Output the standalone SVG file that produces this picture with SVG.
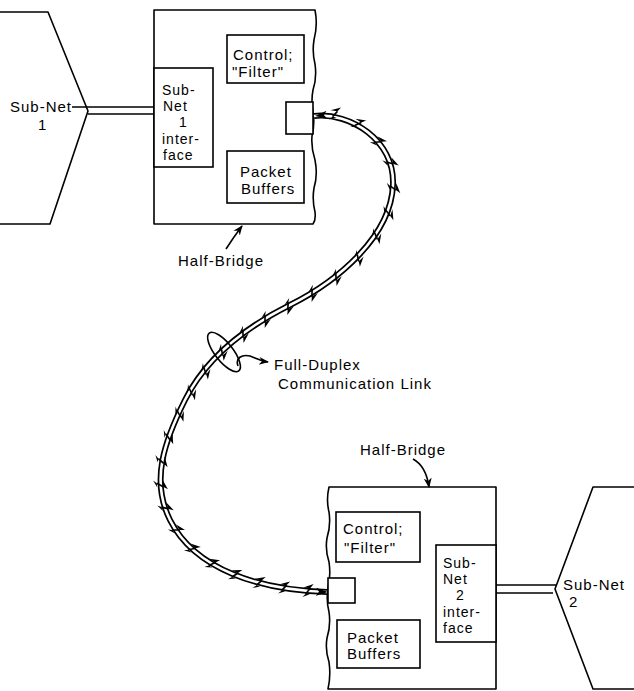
<svg xmlns="http://www.w3.org/2000/svg" width="634" height="691" viewBox="0 0 634 691">
<style>
.t{font-family:"Liberation Sans",Arial,sans-serif;font-size:15px;letter-spacing:1px;fill:#000}
.s{font-size:14px}
.ln{fill:none;stroke:#000;stroke-width:1.6;stroke-linejoin:round}
.bx{fill:#fff;stroke:#000;stroke-width:1.6}
</style>
<defs>
<marker id="arr" viewBox="0 0 10 10" refX="9" refY="5" markerWidth="10" markerHeight="10" markerUnits="userSpaceOnUse" orient="auto">
<path d="M0,1 L10,5 L0,9 L3,5 Z" fill="#000"/>
</marker>
<marker id="larr" viewBox="0 0 12 12" refX="11" refY="6" markerWidth="12" markerHeight="12" markerUnits="userSpaceOnUse" orient="auto-start-reverse">
<path d="M0,2 L12,6 L0,10 L3,6 Z" fill="#000"/>
</marker>
<marker id="bolt" viewBox="-9 -9 18 18" refX="0" refY="0" markerWidth="18" markerHeight="18" markerUnits="userSpaceOnUse" orient="auto" overflow="visible">
<path d="M-5,-3 L5,-7.5 L2,-3 Z" fill="#000"/>
<path d="M2,3 L-5,6.5 L-2,3 Z" fill="#000"/>
<path d="M2,-3 L-2,3" stroke="#000" stroke-width="1.6" fill="none"/>
</marker>
</defs>

<g id="subnet1">
<path class="ln" d="M0,12 L48,12 L88,111 L50,224 L0,224"/>
<text class="t" x="10" y="112">Sub-Net</text>
<text class="t" x="38" y="130">1</text>
</g>

<g id="halfbridge1">
<path class="ln" d="M154,10 L315,10 Q318,25 314,40 Q312,52 315,64 Q317,78 313,90 Q311,100 313,112 Q315,124 312,136 Q311,148 315,160 Q318,175 314,188 Q312,200 315,212 Q316,220 313,224 L154,224 Z"/>
<rect id="port1" class="bx" x="286" y="102" width="27" height="32"/>
</g>

<g id="interface1">
<rect class="bx" x="154" y="68" width="59" height="99"/>
<text class="t s" x="162" y="95">Sub-</text>
<text class="t s" x="163" y="111">Net</text>
<text class="t s" x="179" y="127">1</text>
<text class="t s" x="162" y="144">inter-</text>
<text class="t s" x="163" y="160">face</text>
</g>

<g id="control1">
<rect class="bx" x="227" y="35" width="77" height="48"/>
<text class="t" x="233" y="60">Control;</text>
<text class="t" x="232" y="77">"Filter"</text>
</g>

<g id="buffers1">
<rect class="bx" x="227" y="151" width="77" height="52"/>
<text class="t" x="240" y="177">Packet</text>
<text class="t" x="241" y="194">Buffers</text>
</g>

<g id="label1">
<text class="t" x="178" y="266">Half-Bridge</text>
</g>

<g id="halfbridge2">
<path class="ln" d="M496,487 L329,487 Q326,500 329,512 Q331,525 327,538 Q325,550 329,562 Q331,575 328,588 Q326,600 329,612 Q331,625 327,638 Q325,650 329,662 Q331,676 328,689 L496,689 Z"/>
<rect id="port2" class="bx" x="328" y="578" width="27" height="25"/>
</g>

<g id="control2">
<rect class="bx" x="336" y="512" width="84" height="50"/>
<text class="t" x="343" y="534">Control;</text>
<text class="t" x="344" y="553">"Filter"</text>
</g>

<g id="buffers2">
<rect class="bx" x="337" y="620" width="83" height="48"/>
<text class="t" x="347" y="643">Packet</text>
<text class="t" x="347" y="659">Buffers</text>
</g>

<g id="interface2">
<rect class="bx" x="436" y="545" width="60" height="97"/>
<text class="t s" x="443" y="568">Sub-</text>
<text class="t s" x="443" y="584">Net</text>
<text class="t s" x="456" y="600">2</text>
<text class="t s" x="443" y="617">inter-</text>
<text class="t s" x="443" y="633">face</text>
</g>

<g id="subnet2">
<path class="ln" d="M634,487 L593,487 L555,589 L593,689 L634,689"/>
<text class="t" x="563" y="590">Sub-Net</text>
<text class="t" x="569" y="607">2</text>
</g>

<g id="label2">
<text class="t" x="360" y="455">Half-Bridge</text>
</g>

<g id="linklabel">
<text class="t" x="274" y="370">Full-Duplex</text>
<text class="t" x="278" y="389">Communication Link</text>
</g>

<g id="connectors">
<line class="ln" x1="72" y1="107" x2="154" y2="107"/>
<line class="ln" x1="88" y1="114" x2="154" y2="114"/>
<line class="ln" x1="496" y1="585" x2="557" y2="585"/>
<line class="ln" x1="496" y1="593" x2="553" y2="593"/>
<path class="ln" d="M226,249 Q233,238 242,226" marker-end="url(#arr)"/>
<path class="ln" d="M413,459 Q426,466 429,487" marker-end="url(#arr)"/>
<path id="link-outer" d="M314,116 C350,112 395,140 393,185 C391,235 340,280 290,305 C240,330 205,360 185,400 C165,440 150,480 170,520 C195,570 260,590 327,592" fill="none" stroke="#000" stroke-width="6"/>
<path id="link-inner" d="M314,116 C350,112 395,140 393,185 C391,235 340,280 290,305 C240,330 205,360 185,400 C165,440 150,480 170,520 C195,570 260,590 327,592" fill="none" stroke="#fff" stroke-width="2.6"/>
<polyline fill="none" stroke="none" marker-mid="url(#bolt)" points="313,116 335,114 358,124 378,142 390,163 393,188 388,213 376,236 358,258 336,277 312,293 288,306 265,319 243,334 222,352 205,371 191,392 179,414 168,437 161,461 160,485 165,508 176,530 192,549 212,564 235,575 259,583 284,588 308,591 328,592"/>
<path d="M316,116 C350,112 395,140 393,185 C391,235 340,280 290,305 C240,330 205,360 185,400 C165,440 150,480 170,520 C195,570 260,590 327,592" fill="none" stroke="none" marker-start="url(#larr)" marker-end="url(#larr)"/>
<ellipse cx="224" cy="352" rx="24" ry="9" transform="rotate(52 224 352)" fill="none" stroke="#000" stroke-width="1.6"/>
<path class="ln" d="M238,366 C235,358 242,354 250,356 C256,358 260,361 268,362" marker-end="url(#arr)"/>
</g>
</svg>
